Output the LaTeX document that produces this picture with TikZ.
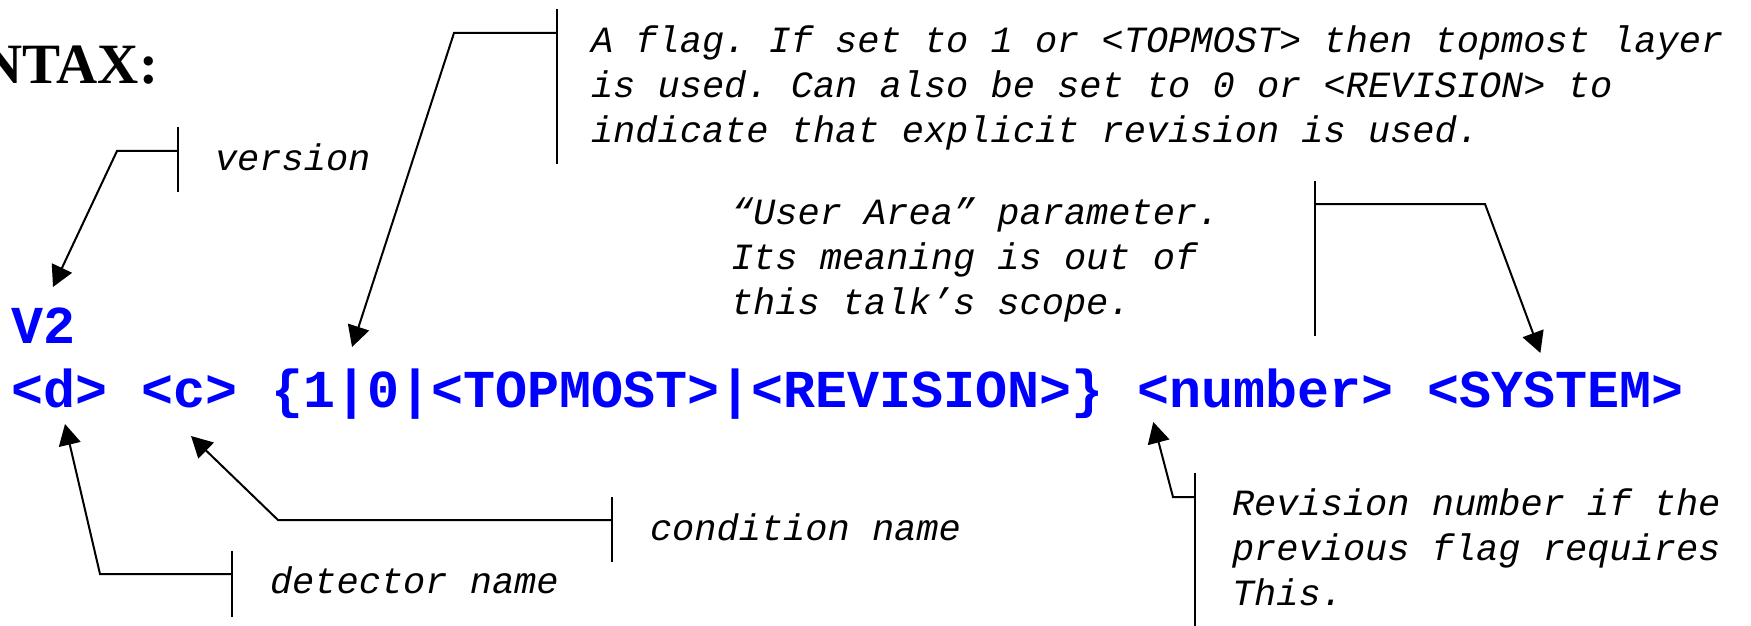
\documentclass[tikz,border=0pt]{standalone}
\usepackage{fontspec}
\setmainfont{Liberation Serif}
\setmonofont{Liberation Mono}
\usetikzlibrary{arrows.meta,positioning,calc}
\definecolor{kek}{RGB}{0,0,255}
\tikzset{
  cim/.style={anchor=base east,inner sep=0pt,font=\bfseries\fontsize{28.5}{32}\selectfont},
  tok/.style={anchor=base west,inner sep=0pt,text=kek,font=\ttfamily\bfseries\fontsize{26.67}{30}\selectfont},
  note/.style={anchor=base west,inner sep=0pt,align=left,font=\ttfamily\itshape\fontsize{18.5}{22.5}\selectfont},
  nyil/.style={-{Triangle[length=10.5pt,width=11pt]}},
}

\begin{document}
\begin{tikzpicture}[x=0.5pt,y=-0.5pt,line width=1pt]
  \useasboundingbox (0,0) rectangle (1751,626);
  \node[cim] (cim) at (159,84) {NTAX:};
  % the syntax line
  \node[tok] (v2) at (10,343) {V2};
  \node[tok] (d) at (10,407) {<d>};
  \node[tok,base right=16pt of d] (c) {<c>};
  \node[tok,base right=16pt of c] (flag) {\{1|0|<TOPMOST>|<REVISION>\}};
  \node[tok,base right=16pt of flag] (num) {<number>};
  \node[tok,base right=16pt of num] (sys) {<SYSTEM>};
  % arrow tips
  \coordinate (v2tip) at ($(v2.base west)+(43,-56)$);
  \coordinate (dtip) at ($(d.base west)+(55,17)$);
  \coordinate (ctip) at ($(c.base west)+(51,29)$);
  \coordinate (flagtip) at ($(flag.base west)+(82,-60)$);
  \coordinate (numtip) at ($(num.base west)+(17,15)$);
  \coordinate (systip) at ($(sys.base west)+(114,-54)$);
  % labels (multi-line ones sit on their last baseline)
  \node[note] (lver) at (214,170) {version};
  \node[note] (lflag) at (590,142) {A flag. If set to 1 or <TOPMOST> then topmost layer\\
    is used. Can also be set to 0 or <REVISION> to\\indicate that explicit revision is used.};
  \node[note] (luser) at (730,314) {“User Area” parameter.\\Its meaning is out of\\this talk’s scope.};
  \node[note] (ldet) at (269,593) {detector name};
  \node[note] (lcond) at (649,540) {condition name};
  \node[note] (lrev) at (1231,605) {Revision number if the\\previous flag requires\\This.};
  % callouts: bar, elbow, arrow
  \coordinate (verk) at (178,151);
  \draw (178,127) -- (178,192);
  \draw[nyil] (verk) -- (117,151) -- (v2tip);
  \coordinate (flagk) at (557,33);
  \draw (557,9) -- (557,164);
  \draw[nyil] (flagk) -- (454,33) -- (flagtip);
  \coordinate (sysk) at (1315,204);
  \draw (1315,181) -- (1315,336);
  \draw[nyil] (sysk) -- (1485,204) -- (systip);
  \coordinate (detk) at (232,574);
  \draw (232,551) -- (232,617);
  \draw[nyil] (detk) -- (100,574) -- (dtip);
  \coordinate (condk) at (612,520);
  \draw (612,497) -- (612,562);
  \draw[nyil] (condk) -- (278,520) -- (ctip);
  \coordinate (numk) at (1195,497);
  \draw (1195,473) -- (1195,640);
  \draw[nyil] (numk) -- (1173,497) -- (numtip);
\end{tikzpicture}
\end{document}
